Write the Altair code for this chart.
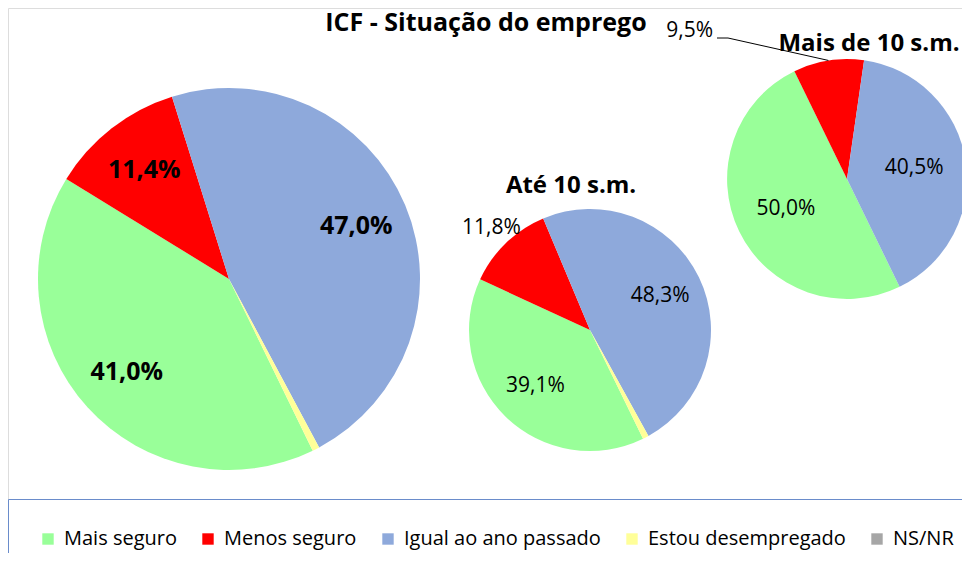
import math
import altair as alt
import pandas as pd

# ---- data ----
pies = ["Total", "Até 10 s.m.", "Mais de 10 s.m."]
categories = ["Mais seguro", "Menos seguro", "Igual ao ano passado", "Estou desempregado", "NS/NR"]
colors = ["#99FF99", "#FF0000", "#8EA9DB", "#FFFF99", "#A6A6A6"]
total_vals = [41.0, 11.4, 47.0, 0.6, 0.0]
ate10_vals = [39.1, 11.8, 48.3, 0.8, 0.0]
mais10_vals = [50.0, 9.5, 40.5, 0.0, 0.0]
shown_labels = ["Mais seguro", "Menos seguro", "Igual ao ano passado"]

main_title = "ICF - Situação do emprego"

rows = []
for pie, vals in zip(pies, [total_vals, ate10_vals, mais10_vals]):
    for j, (c, v) in enumerate(zip(categories, vals)):
        lab = (f"{v:.1f}".replace(".", ",") + "%") if c in shown_labels else ""
        rows.append({"pie": pie, "cat": c, "value": v, "order": j, "label": lab})
df = pd.DataFrame(rows)

FONT = "Open Sans"
START = math.radians(154)
theta_scale = alt.Scale(domain=[0, 100], range=[START, START + 2 * math.pi])
color_enc = alt.Color(
    "cat:N",
    scale=alt.Scale(domain=categories, range=colors),
    legend=alt.Legend(
        title=None,
        orient="none",
        legendX=0,
        legendY=491,
        direction="horizontal",
        columns=5,
        symbolType="square",
        symbolSize=130,
        symbolStrokeWidth=0,
        labelFont=FONT,
        labelFontSize=20,
        labelLimit=0,
        labelColor="#000000",
        labelOffset=6,
        columnPadding=21,
        padding=30,
        strokeColor="#6A8CCB",
        fillColor="white",
    ),
)

# (center x, center y, radius, inner label radius, label size, weight)
geo = {
    "Total": (221, 271, 191, 138, 25, "bold"),
    "Até 10 s.m.": (582, 322, 121, 78, 21, "normal"),
    "Mais de 10 s.m.": (839, 171, 120, 68, 21, "normal"),
}

layers = []
for pie in pies:
    cx, cy, R, lr, fs, fw = geo[pie]
    base = alt.Chart(df).transform_filter(alt.datum.pie == pie)
    arc = base.mark_arc(radius=R).encode(
        theta=alt.Theta("value:Q", stack=True, scale=theta_scale),
        color=color_enc,
        order=alt.Order("order:Q", sort="ascending"),
        x=alt.value(cx),
        y=alt.value(cy),
    )
    layers.append(arc)
    if pie == "Total":
        disp = "datum.label"
    else:
        disp = "datum.cat == 'Menos seguro' ? '' : datum.label"
    txt = base.transform_calculate(disp=disp).mark_text(
        radius=lr, font=FONT, fontSize=fs, fontWeight=fw, color="#000000"
    ).encode(
        theta=alt.Theta("value:Q", stack=True, scale=theta_scale),
        order=alt.Order("order:Q", sort="ascending"),
        detail="cat:N",
        text="disp:N",
        x=alt.value(cx),
        y=alt.value(cy),
    )
    layers.append(txt)

# outside label for the middle pie
cx, cy, R, lr, fs, fw = geo["Até 10 s.m."]
out_mid = alt.Chart(df).transform_filter(alt.datum.pie == "Até 10 s.m.").transform_calculate(
    disp="datum.cat == 'Menos seguro' ? datum.label : ''"
).mark_text(radius=142, font=FONT, fontSize=21, color="#000000").encode(
    theta=alt.Theta("value:Q", stack=True, scale=theta_scale),
    order=alt.Order("order:Q", sort="ascending"),
    detail="cat:N",
    text="disp:N",
    x=alt.value(cx),
    y=alt.value(cy),
)
layers.append(out_mid)

# outside label + leader line for the right pie
cx, cy, R, lr, fs, fw = geo["Mais de 10 s.m."]
right = alt.Chart(df).transform_filter(alt.datum.pie == "Mais de 10 s.m.")
lab_right = right.transform_filter(alt.datum.cat == "Menos seguro").mark_text(
    font=FONT, fontSize=21, color="#000000", align="right", baseline="middle"
).encode(text="label:N", x=alt.value(705), y=alt.value(23))
layers.append(lab_right)

leader = (
    right.transform_window(cum="sum(value)", sort=[alt.SortField("order")], frame=[None, 0])
    .transform_filter(alt.datum.cat == "Menos seguro")
    .transform_calculate(
        ang=f"{START} + (datum.cum - datum.value / 2) / 100 * 2 * PI",
        ex=f"{cx} + {R} * sin(datum.ang)",
        ey=f"{cy} - {R} * cos(datum.ang)",
        sx="720",
        sy="30",
        hx="709",
    )
)
seg1 = leader.mark_rule(color="#000000", strokeWidth=1).encode(
    x=alt.X("sx:Q", scale=None, axis=None),
    y=alt.Y("sy:Q", scale=None, axis=None),
    x2="ex:Q",
    y2="ey:Q",
)
seg2 = leader.mark_rule(color="#000000", strokeWidth=1).encode(
    x=alt.X("hx:Q", scale=None, axis=None),
    y=alt.Y("sy:Q", scale=None, axis=None),
    x2="sx:Q",
)
layers += [seg1, seg2]

# titles
titles = pd.DataFrame({"t": [main_title, pies[1], pies[2]]})
t_main = alt.Chart(titles).transform_filter(alt.datum.t == main_title).mark_text(
    font=FONT, fontSize=25, fontWeight="bold", color="#000000", baseline="top"
).encode(text="t:N", x=alt.value(478), y=alt.value(3))
t_mid = alt.Chart(titles).transform_filter(alt.datum.t == pies[1]).mark_text(
    font=FONT, fontSize=24, fontWeight="bold", color="#000000"
).encode(text="t:N", x=alt.value(563), y=alt.value(178))
t_right = alt.Chart(titles).transform_filter(alt.datum.t == pies[2]).mark_text(
    font=FONT, fontSize=24, fontWeight="bold", color="#000000"
).encode(text="t:N", x=alt.value(861), y=alt.value(36))
layers += [t_main, t_mid, t_right]

chart = (
    alt.layer(*layers)
    .properties(width=954, height=545, padding=0, autosize=alt.AutoSizeParams(type="none"))
    .configure_view(strokeWidth=0, stroke="transparent", strokeOpacity=0)
    .configure_axis(disable=True)
    .configure(background="white")
)

chart.save("out.html", embed_options={"renderer": "svg", "actions": False})
